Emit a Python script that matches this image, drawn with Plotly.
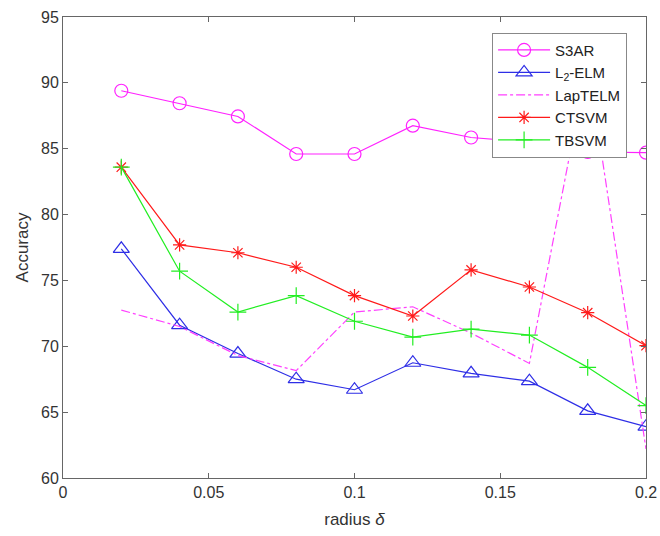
import plotly.graph_objects as go

radius = [0.02, 0.04, 0.06, 0.08, 0.10, 0.12, 0.14, 0.16, 0.18, 0.20]
s3ar = [89.4, 88.45, 87.45, 84.6, 84.6, 86.75, 85.85, 85.5, 84.75, 84.7]
l2elm = [77.4, 71.6, 69.45, 67.5, 66.7, 68.75, 67.95, 67.35, 65.1, 63.9]
laptelm = [72.75, 71.5, 69.3, 68.15, 72.6, 73.0, 71.0, 68.7, 91.6, 62.2]
ctsvm = [83.6, 77.7, 77.1, 76.0, 73.85, 72.3, 75.8, 74.5, 72.55, 70.05]
tbsvm = [83.6, 75.7, 72.6, 73.85, 71.9, 70.7, 71.3, 70.85, 68.4, 65.5]

x_ticks = [0, 0.05, 0.1, 0.15, 0.2]
x_tick_labels = ["0", "0.05", "0.1", "0.15", "0.2"]
y_ticks = [60, 65, 70, 75, 80, 85, 90, 95]

FONT = "Liberation Sans, Arial"

fig = go.Figure()
fig.add_trace(go.Scatter(x=radius, y=s3ar, name="S3AR", mode="lines+markers",
                         line=dict(color="#FF22FF", width=1.2),
                         marker=dict(symbol="circle-open", size=13, color="#FF22FF", line=dict(width=1.2))))
fig.add_trace(go.Scatter(x=radius, y=l2elm, name="L<sub>2</sub>-ELM", mode="lines+markers",
                         line=dict(color="#2E2EE6", width=1.2),
                         marker=dict(symbol="triangle-up-open", size=14, color="#2E2EE6", line=dict(width=1.2))))
fig.add_trace(go.Scatter(x=radius, y=laptelm, name="LapTELM", mode="lines",
                         line=dict(color="#FF40FF", width=1.2, dash="dashdot")))
fig.add_trace(go.Scatter(x=radius, y=ctsvm, name="CTSVM", mode="lines+markers",
                         line=dict(color="#FF1A1A", width=1.2),
                         marker=dict(symbol="asterisk-open", size=11, color="#FF1A1A", line=dict(width=1.2, color="#FF1A1A"))))
fig.add_trace(go.Scatter(x=radius, y=tbsvm, name="TBSVM", mode="lines+markers",
                         line=dict(color="#22EE22", width=1.2),
                         marker=dict(symbol="cross-thin-open", size=12, color="#22EE22", line=dict(width=1.2, color="#22EE22"))))

axis_common = dict(showline=True, linecolor="#666666", linewidth=1, mirror="ticks",
                   ticks="inside", ticklen=5, tickcolor="#666666", showgrid=False, zeroline=False,
                   automargin=False,
                   tickfont=dict(family=FONT, size=16, color="#333333"))

fig.update_layout(
    width=660, height=536,
    paper_bgcolor="white", plot_bgcolor="white",
    margin=dict(l=63, r=14, t=17, b=58),
    showlegend=True,
    legend=dict(x=0.736, y=0.966, xanchor="left", yanchor="top",
                bgcolor="white", bordercolor="#888888", borderwidth=1,
                font=dict(family=FONT, size=15, color="#222222"),
                tracegroupgap=0, itemwidth=52),
    xaxis=dict(range=[0, 0.2], tickvals=x_ticks, ticktext=x_tick_labels,
               title=dict(text="radius <i>δ</i>", font=dict(family=FONT, size=17, color="#333333"), standoff=12),
               **axis_common),
    yaxis=dict(range=[60, 95], tickvals=y_ticks,
               title=dict(text="Accuracy", font=dict(family=FONT, size=17, color="#333333"), standoff=8),
               **axis_common),
)

fig.write_html("out.html",
               config={"displayModeBar": False},
               post_script="document.body.style.margin='0';document.body.style.overflow='hidden';")
